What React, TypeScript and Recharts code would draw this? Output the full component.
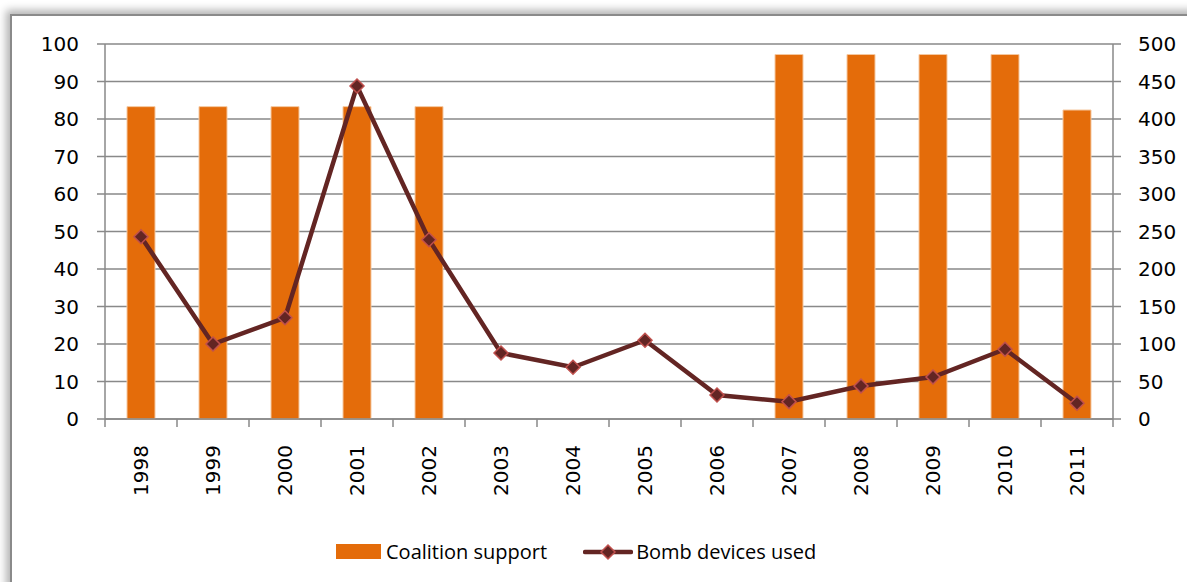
import { Bar, ComposedChart, Line, XAxis, YAxis, CartesianGrid } from "recharts"

const years = ["1998", "1999", "2000", "2001", "2002", "2003", "2004", "2005", "2006", "2007", "2008", "2009", "2010", "2011"]
const coalitionSupport = [83.3, 83.3, 83.3, 83.3, 83.3, null, null, null, null, 97.2, 97.2, 97.2, 97.2, 82.4]
const bombDevices = [243, 100, 135, 444, 239, 88, 69, 105, 32, 23, 44, 56, 93, 21]
const leftTicks = [0, 10, 20, 30, 40, 50, 60, 70, 80, 90, 100]
const rightTicks = [0, 50, 100, 150, 200, 250, 300, 350, 400, 450, 500]

const data = years.map((year, i) => ({
  year,
  coalition: coalitionSupport[i],
  bombs: bombDevices[i],
}))

const FONT = "'DejaVu Sans', sans-serif"
const GRID = "#898989"
const BAR = "#E46C0A"
const LINE = "#632523"
const MARKER_EDGE = "#C0504D"

function Diamond(props: any) {
  const { cx, cy, index } = props
  if (cx == null || cy == null) return null
  const r = 7
  return (
    <polygon
      key={`d-${index}`}
      points={`${cx},${cy - r} ${cx + r},${cy} ${cx},${cy + r} ${cx - r},${cy}`}
      fill={LINE}
      stroke={MARKER_EDGE}
      strokeWidth={1.5}
    />
  )
}

function YearTick(props: any) {
  const { x, y, payload, index } = props
  const half = payload?.offset || 36
  return (
    <g>
      <line x1={x + half} y1={y - 8} x2={x + half} y2={y} stroke={GRID} strokeWidth={1.5} />
      {index === 0 && <line x1={x - half} y1={y - 8} x2={x - half} y2={y} stroke={GRID} strokeWidth={1.5} />}
      <text
        transform={`translate(${x},${y + 18}) rotate(-90)`}
        textAnchor="end"
        dy="0.36em"
        fontFamily={FONT}
        fontSize={20}
        fill="#000"
      >
        {payload.value}
      </text>
    </g>
  )
}

function LegendBox() {
  return (
    <div
      style={{
        position: "absolute",
        top: 538,
        left: 336,
        display: "flex",
        alignItems: "center",
        fontFamily: "'Open Sans', sans-serif",
        fontSize: 20,
        color: "#000",
        whiteSpace: "nowrap",
      }}
    >
      <span style={{ display: "inline-block", width: 45, height: 15, background: BAR, marginRight: 5 }} />
      <span>Coalition support</span>
      <svg width={50} height={20} style={{ marginLeft: 36, marginRight: 3 }}>
        <line x1={2} y1={10} x2={48} y2={10} stroke={LINE} strokeWidth={4.5} strokeLinecap="round" />
        <polygon points="25,3 32,10 25,17 18,10" fill={LINE} stroke={MARKER_EDGE} strokeWidth={1.5} />
      </svg>
      <span>Bomb devices used</span>
    </div>
  )
}

export default function App() {
  return (
    <div style={{ position: "fixed", left: 0, top: 0, width: 1187, height: 582, background: "#fff", overflow: "hidden" }}>
      <div
        style={{
          position: "absolute",
          left: 10,
          top: 14,
          width: 1200,
          height: 600,
          border: "2px solid #8a8a8a",
          boxShadow: "-4px -4px 8px rgba(0,0,0,0.3)",
          background: "#fff",
        }}
      />
      <div style={{ position: "absolute", left: 0, top: 0 }}>
        <ComposedChart width={1187} height={582} data={data} margin={{ top: 44, right: 0, left: 0, bottom: 0 }}>
          <CartesianGrid yAxisId="l" vertical={false} stroke={GRID} strokeWidth={1.5} />
          <XAxis
            dataKey="year"
            height={163}
            tickLine={false}
            tickSize={8}
            tickMargin={0}
            axisLine={{ stroke: GRID, strokeWidth: 1.5 }}
            tick={<YearTick />}
            interval={0}
          />
          <YAxis
            yAxisId="l"
            width={105}
            domain={[0, 100]}
            ticks={leftTicks}
            tickSize={8}
            tickMargin={18}
            axisLine={{ stroke: GRID, strokeWidth: 1.5 }}
            tickLine={{ stroke: GRID, strokeWidth: 1.5 }}
            tick={{ fill: "#000", fontSize: 20, fontFamily: FONT }}
            interval={0}
          />
          <YAxis
            yAxisId="r"
            orientation="right"
            width={74}
            domain={[0, 500]}
            ticks={rightTicks}
            tickSize={8}
            tickMargin={17}
            axisLine={{ stroke: GRID, strokeWidth: 1.5 }}
            tickLine={{ stroke: GRID, strokeWidth: 1.5 }}
            tick={{ fill: "#000", fontSize: 20, fontFamily: FONT, textAnchor: "start" }}
            interval={0}
          />
          <Bar
            yAxisId="l"
            dataKey="coalition"
            fill={BAR}
            stroke="#F5C8A0"
            strokeWidth={1}
            barSize={28}
            isAnimationActive={false}
          />
          <Line
            yAxisId="r"
            type="linear"
            dataKey="bombs"
            stroke={LINE}
            strokeWidth={4.5}
            dot={<Diamond />}
            activeDot={false}
            isAnimationActive={false}
          />
        </ComposedChart>
      </div>
      <LegendBox />
    </div>
  )
}
